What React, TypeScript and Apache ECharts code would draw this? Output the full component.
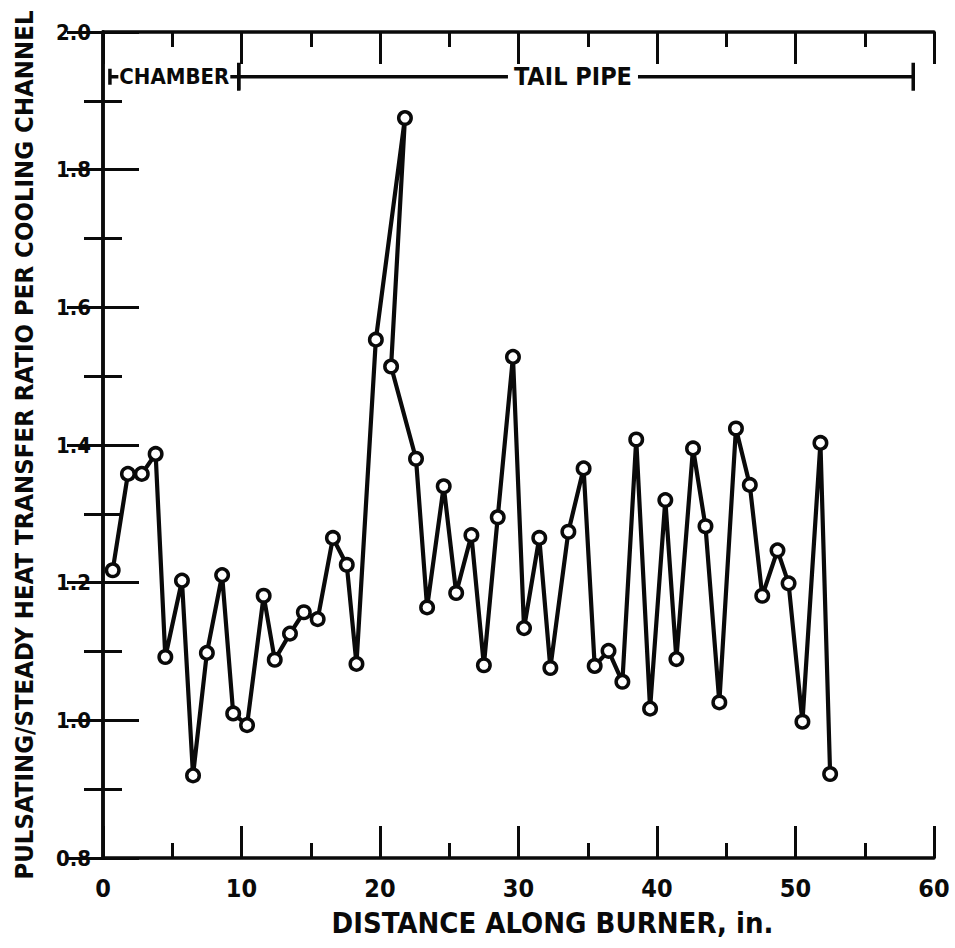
import React, { useEffect, useRef } from "react";
import * as echarts from "echarts";

const distance = [0.7, 1.8, 2.8, 3.8, 4.5, 5.7, 6.5, 7.5, 8.6, 9.4, 10.4, 11.6, 12.4, 13.5, 14.5, 15.5, 16.6, 17.6, 18.3, 19.7, 21.8, 20.8, 22.6, 23.4, 24.6, 25.5, 26.6, 27.5, 28.5, 29.6, 30.4, 31.5, 32.3, 33.6, 34.7, 35.5, 36.5, 37.5, 38.5, 39.5, 40.6, 41.4, 42.6, 43.5, 44.5, 45.7, 46.7, 47.6, 48.7, 49.5, 50.5, 51.8, 52.5];
const ratio = [1.218, 1.358, 1.358, 1.387, 1.092, 1.203, 0.92, 1.098, 1.211, 1.01, 0.993, 1.181, 1.088, 1.126, 1.157, 1.147, 1.265, 1.226, 1.082, 1.553, 1.875, 1.514, 1.38, 1.164, 1.34, 1.185, 1.269, 1.08, 1.295, 1.528, 1.134, 1.265, 1.076, 1.274, 1.366, 1.079, 1.101, 1.056, 1.408, 1.017, 1.32, 1.089, 1.395, 1.282, 1.026, 1.424, 1.342, 1.181, 1.247, 1.199, 0.998, 1.403, 0.922];

const xTicks = ["0", "10", "20", "30", "40", "50", "60"];
const yTicks = ["0.8", "1.0", "1.2", "1.4", "1.6", "1.8", "2.0"];

// Section bracket along the top of the plot (data units)
const sectionNames = ["CHAMBER", "TAIL PIPE"];
const sectionStart = [0.5, 9.8];
const sectionEnd = [9.8, 58.5];
const sectionLevel = 1.935;

const xTitle = "DISTANCE ALONG BURNER, in.";
const yTitle = "PULSATING/STEADY HEAT TRANSFER RATIO PER COOLING CHANNEL";

const FONT = "'DejaVu Sans Condensed', 'Liberation Sans Narrow', 'Liberation Sans', sans-serif";
const INK = "#0a0a0a";

export default function App() {
  const ref = useRef<HTMLDivElement>(null);
  useEffect(() => {
    if (!ref.current) return;
    const chart = echarts.init(ref.current, null, { renderer: "svg" });
    const textStyle = { color: INK, fontFamily: FONT, fontWeight: "bold" as const };
    const axisCommon = {
      axisLine: { show: true, lineStyle: { color: INK, width: 3.5 } },
      splitLine: { show: false },
    };
    const xAx = (pos: "bottom" | "top", labels: boolean) => ({
      type: "value" as const,
      position: pos,
      min: 0,
      max: 60,
      interval: 10,
      ...axisCommon,
      axisTick: { show: true, inside: true, length: 32, lineStyle: { color: INK, width: 3 } },
      minorTick: { show: true, splitNumber: 2, length: 15, lineStyle: { color: INK, width: 3 } },
      axisLabel: {
        show: labels,
        margin: 18,
        ...textStyle,
        fontSize: 25,
        formatter: (v: number) => xTicks[Math.round(v / 10)] ?? "",
      },
    });
    const yAx = (pos: "left" | "right", labels: boolean) => ({
      type: "value" as const,
      position: pos,
      min: 0.8,
      max: 2.0,
      interval: 0.2,
      ...axisCommon,
      axisTick: { show: true, inside: true, length: 36, lineStyle: { color: INK, width: 3 } },
      minorTick: { show: true, splitNumber: 2, length: 19, lineStyle: { color: INK, width: 3 } },
      axisLabel: {
        show: labels,
        margin: 12,
        ...textStyle,
        fontSize: 22,
        formatter: (v: number) => yTicks[Math.round((v - 0.8) / 0.2)] ?? "",
      },
    });
    const xb = xAx("bottom", true) as any;
    xb.name = xTitle;
    xb.nameLocation = "middle";
    xb.nameGap = 50;
    xb.nameTextStyle = { ...textStyle, fontSize: 29, padding: [0, 0, 0, 68] };
    const yl = yAx("left", true) as any;
    yl.name = yTitle;
    yl.nameLocation = "middle";
    yl.nameGap = 66;
    yl.nameTextStyle = { ...textStyle, fontSize: 25.5 };

    chart.setOption({
      animation: false,
      backgroundColor: "#ffffff",
      grid: { left: 103, right: 21, top: 32, bottom: 90, outerBoundsMode: "none", containLabel: false },
      xAxis: [xb, xAx("top", false)],
      yAxis: [yl, yAx("right", false)],
      series: [
        {
          type: "line",
          xAxisIndex: 0,
          yAxisIndex: 0,
          data: distance.map((d, i) => [d, ratio[i]]),
          symbol: "circle",
          symbolSize: 12.5,
          showSymbol: true,
          lineStyle: { color: INK, width: 4.2 },
          itemStyle: { color: "#ffffff", borderColor: INK, borderWidth: 3.5 },
          z: 5,
        },
      ],
    });

    const px = (x: number, y: number) =>
      chart.convertToPixel({ xAxisIndex: 0, yAxisIndex: 0 }, [x, y]) as number[];
    const graphics: any[] = [];
    const lineStyle = { stroke: INK, lineWidth: 3.5 };
    sectionNames.forEach((name, i) => {
      const a = px(sectionStart[i], sectionLevel);
      const b = px(sectionEnd[i], sectionLevel);
      graphics.push({ type: "line", shape: { x1: a[0], y1: a[1], x2: b[0], y2: b[1] }, style: lineStyle, z: 10 });
      const h = i === 0 ? 8 : 13;
      graphics.push({ type: "line", shape: { x1: a[0], y1: a[1] - h, x2: a[0], y2: a[1] + h }, style: lineStyle, z: 10 });
      graphics.push({ type: "line", shape: { x1: b[0], y1: b[1] - 14, x2: b[0], y2: b[1] + 14 }, style: lineStyle, z: 10 });
    });
    const c0 = px((sectionStart[0] + sectionEnd[0]) / 2, sectionLevel);
    const c1 = px((sectionStart[1] + sectionEnd[1]) / 2, sectionLevel);
    [c0, c1].forEach((c, i) => {
      graphics.push({
        type: "text",
        x: c[0] + (i === 1 ? -3 : 0),
        y: c[1],
        z: 11,
        style: {
          text: sectionNames[i],
          fill: INK,
          font: `bold ${i === 0 ? 22 : 25}px ${FONT}`,
          align: "center",
          verticalAlign: "middle",
          backgroundColor: "#ffffff",
          padding: [0, i === 1 ? 6 : 1],
        },
      });
    });
    chart.setOption({ graphic: graphics });

    return () => chart.dispose();
  }, []);
  return (
    <div
      ref={ref}
      style={{ position: "absolute", left: 0, top: 0, width: 955, height: 948 }}
    />
  );
}
